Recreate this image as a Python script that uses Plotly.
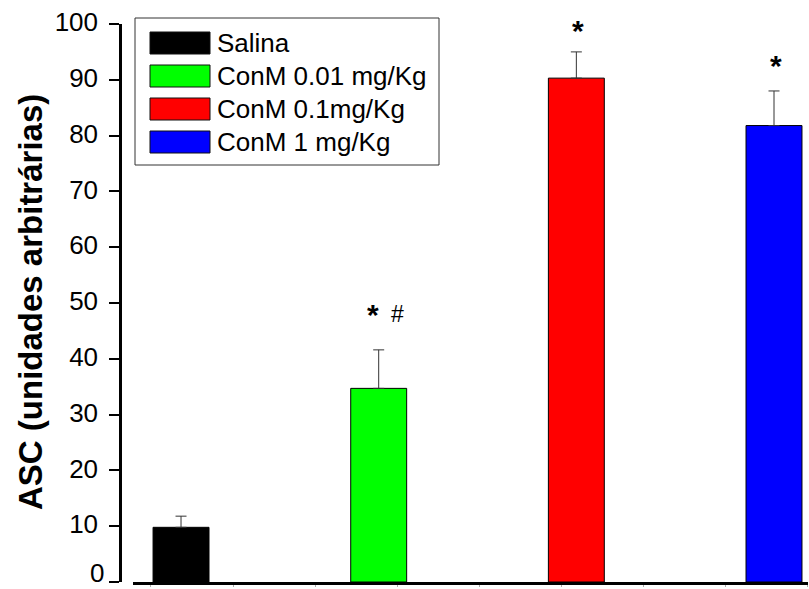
import plotly.graph_objects as go

# ---- data ----
groups = ["Salina", "ConM 0.01 mg/Kg", "ConM 0.1mg/Kg", "ConM 1 mg/Kg"]
positions = [1, 2, 3, 4]
values = [9.8, 34.7, 90.3, 81.8]
errors = [2.0, 6.9, 4.7, 6.2]
colors = ["#000000", "#00FF00", "#FF0000", "#0000FF"]
stars = ["", "*", "*", "*"]
hashes = ["", "#", "", ""]
mark_y = [0, 48.6, 99.5, 93.3]
y_ticks = [0, 10, 20, 30, 40, 50, 60, 70, 80, 90, 100]

W, H = 809, 589
ML, MR, MT, MB = 120, 1, 24, 7
PW, PH = W - ML - MR, H - MT - MB


def px_x(p):
    return (p - ML) / PW


def px_y(p):
    return (H - MB - p) / PH


FONT = "Liberation Sans, Arial, sans-serif"
STAR_SIZE = 30
HASH_SIZE = 23
TICK_SIZE = 26
TICK_LEN, TICK_STANDOFF = 10, 6

fig = go.Figure()
for i, g in enumerate(groups):
    fig.add_trace(go.Bar(
        x=[positions[i]], y=[values[i]], name=g,
        width=0.283,
        marker=dict(color=colors[i], line=dict(color="#000000", width=1)),
        error_y=dict(type="data", array=[errors[i]], arrayminus=[0], symmetric=False,
                     color="#333333", thickness=1, width=5.5),
        showlegend=False,
    ))

shapes = []
annotations = []

# significance marks
for i in range(len(groups)):
    has_hash = bool(hashes[i])
    if stars[i]:
        annotations.append(dict(x=positions[i], y=mark_y[i], xref="x", yref="y",
                                text="<b>*</b>", showarrow=False, yanchor="bottom",
                                yshift=-0.74 * STAR_SIZE, xshift=-6 if has_hash else 2,
                                font=dict(family=FONT, size=STAR_SIZE, color="black")))
    if has_hash:
        annotations.append(dict(x=positions[i], y=mark_y[i], xref="x", yref="y",
                                text=hashes[i], showarrow=False, yanchor="bottom",
                                yshift=-0.78 * HASH_SIZE, xshift=19,
                                font=dict(family=FONT, size=HASH_SIZE, color="black")))

# custom legend
shapes.append(dict(type="rect", xref="paper", yref="paper",
                   x0=px_x(135), x1=px_x(439), y0=px_y(165), y1=px_y(18),
                   line=dict(color="#333333", width=1), fillcolor="white", layer="above"))
for i, g in enumerate(groups):
    cy = 43 + 33 * i
    shapes.append(dict(type="rect", xref="paper", yref="paper",
                       x0=px_x(150), x1=px_x(210), y0=px_y(cy + 11), y1=px_y(cy - 11),
                       line=dict(color="#111111", width=1), fillcolor=colors[i], layer="above"))
    annotations.append(dict(x=px_x(215), y=px_y(cy), xref="paper", yref="paper", text=g,
                            showarrow=False, xanchor="left", yanchor="middle",
                            font=dict(family=FONT, size=26, color="black")))

# y-axis title
annotations.append(dict(x=px_x(30), y=px_y(302), xref="paper", yref="paper",
                        text="<b>ASC (unidades arbitrárias)</b>", textangle=-90,
                        showarrow=False, xanchor="center", yanchor="middle",
                        font=dict(family=FONT, size=33, color="black")))

# lowest tick label drawn as annotation so it stays inside the page
tick_text = [str(t) for t in y_ticks]
annotations.append(dict(x=px_x(ML - TICK_LEN - TICK_STANDOFF + 1), y=px_y(H), xref="paper",
                        yref="paper", text=tick_text[0], showarrow=False,
                        xanchor="right", yanchor="bottom", borderpad=0,
                        font=dict(family=FONT, size=TICK_SIZE, color="black")))
tick_text[0] = ""

fig.update_layout(
    width=W, height=H,
    margin=dict(l=ML, r=MR, t=MT, b=MB, pad=0, autoexpand=False),
    paper_bgcolor="white", plot_bgcolor="white",
    showlegend=False,
    shapes=shapes, annotations=annotations,
    xaxis=dict(domain=[px_x(133), 1], range=[0.757, 4.172], automargin=False,
               showline=True, linecolor="black", linewidth=2.5,
               showgrid=False, zeroline=False,
               ticks="outside", ticklen=2, tickwidth=1, tickcolor="#aaaaaa",
               tickvals=[0.848 + 0.415 * k for k in range(9)],
               showticklabels=False),
    yaxis=dict(anchor="free", position=0, range=[0, 100], automargin=False,
               tickvals=y_ticks, ticktext=tick_text,
               ticklabeloverflow="allow", ticklabelstandoff=TICK_STANDOFF, ticklabelshift=-2,
               showline=True, linecolor="black", linewidth=2.5,
               showgrid=False, zeroline=False,
               ticks="outside", ticklen=TICK_LEN, tickwidth=2, tickcolor="black",
               tickfont=dict(family=FONT, size=TICK_SIZE, color="black")),
)

fig.write_html("out.html")
